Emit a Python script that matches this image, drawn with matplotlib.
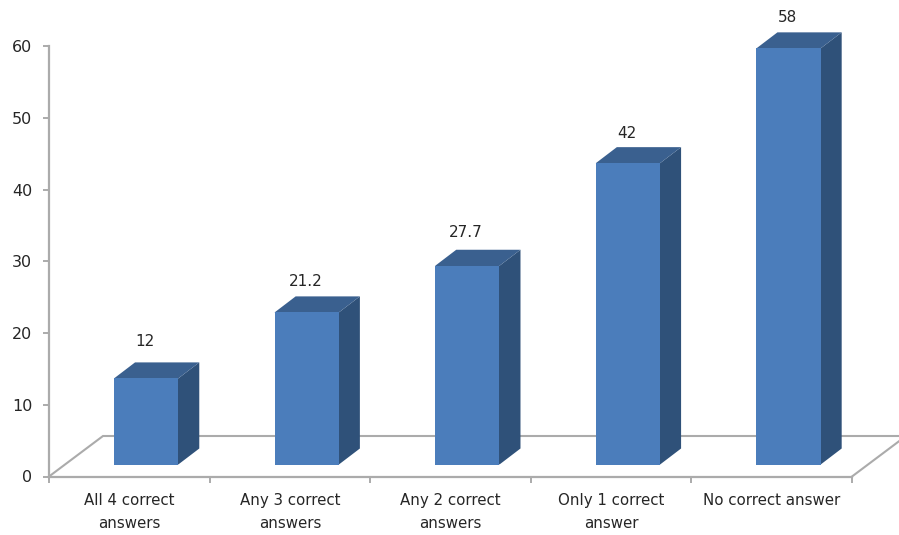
import matplotlib
matplotlib.use("Agg")
import matplotlib.pyplot as plt

categories = ["All 4 correct\nanswers", "Any 3 correct\nanswers", "Any 2 correct\nanswers",
              "Only 1 correct\nanswer", "No correct answer"]
values = [12, 21.2, 27.7, 42, 58]
value_labels = ["12", "21.2", "27.7", "42", "58"]
y_ticks = [0, 10, 20, 30, 40, 50, 60]

W, H = 899, 535
GREY = "#ababab"
FRONT, SIDE, TOP = "#4b7dbb", "#2f5179", "#3a608f"
TEXT = "#262626"

fig = plt.figure(figsize=(W / 100, H / 100), dpi=100, facecolor="white")
left, right, top, bottom = 49, 852, 46, 476.5
ax = fig.add_axes([left / W, 1 - bottom / H, (right - left) / W, (bottom - top) / H])
ax.set_xlim(0, 5)
ax.set_ylim(0, 60)

# pseudo-3D geometry, in data units
px_x = 5 / (right - left)
px_y = 60 / (bottom - top)
floor_dx, floor_dy = 54 * px_x, 40.5 * px_y
depth_dx, depth_dy = 21 * px_x, 16 * px_y
base = 12 * px_y
bar_w = 0.40
bar_off = 0.405
label_gap = [37, 31, 33, 30, 31]  # pixels above each bar's front edge

# floor outline behind the bars
ax.plot([0, floor_dx, 5 + floor_dx], [0, floor_dy, floor_dy], color=GREY, lw=1.5,
        clip_on=False, zorder=1, solid_joinstyle="miter")
ax.plot([5, 5 + floor_dx], [0, floor_dy], color=GREY, lw=1.5, clip_on=False, zorder=1)

for i, v in enumerate(values):
    x0, x1 = i + bar_off, i + bar_off + bar_w
    y0, y1 = base, base + v
    # the darker faces tuck under the front face so no light seam shows
    tuck_x, tuck_y = 2 * px_x, 2 * px_y
    ax.fill([x1 - tuck_x, x1, x1 + depth_dx, x1 + depth_dx, x1, x1 - tuck_x],
            [y0 + tuck_y, y0, y0 + depth_dy, y1 + depth_dy, y1, y1],
            color=SIDE, lw=0, zorder=2, clip_on=False)
    ax.fill([x0 + tuck_x, x0, x0 + depth_dx, x1 + depth_dx, x1, x1 - tuck_x],
            [y1 - tuck_y, y1, y1 + depth_dy, y1 + depth_dy, y1, y1 - tuck_y],
            color=TOP, lw=0, zorder=2.5, clip_on=False)
    ax.fill([x0, x1, x1, x0], [y0, y0, y1, y1], color=FRONT, lw=0, zorder=3, clip_on=False)
    ax.annotate(value_labels[i], xy=((x0 + x1) / 2, y1), xytext=(-1, label_gap[i] * 0.72),
                textcoords="offset points", ha="center", va="center",
                fontsize=11, color=TEXT, annotation_clip=False)

for s in ("top", "right"):
    ax.spines[s].set_visible(False)
for s in ("left", "bottom"):
    ax.spines[s].set_color(GREY)
    ax.spines[s].set_linewidth(1.6)

ax.set_yticks(y_ticks)
ax.set_xticks(range(6))
ax.set_xticklabels([])
ax.tick_params(axis="y", color=GREY, width=1.4, length=4, labelsize=11.5, labelcolor=TEXT, pad=8)
ax.tick_params(axis="x", color=GREY, width=1.4, length=4)

for i, c in enumerate(categories):
    ax.annotate(c, xy=(i + 0.5, 0), xytext=(0, -12), textcoords="offset points",
                ha="center", va="top", fontsize=10.8, color=TEXT, linespacing=1.68,
                annotation_clip=False)

fig.savefig("out.png", dpi=100, facecolor="white")
